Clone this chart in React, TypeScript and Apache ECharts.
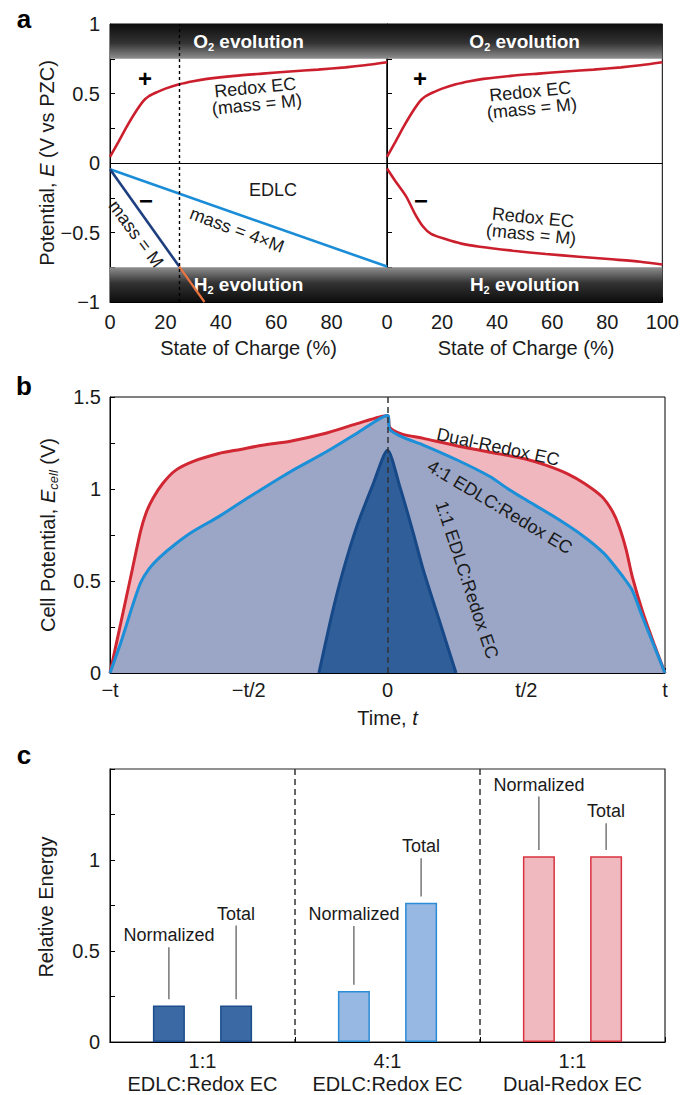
import React, { useEffect, useRef } from 'react';
import * as echarts from 'echarts';

const FONT = '"Liberation Sans", Arial, Helvetica, sans-serif';
const INK = '#1a1a1a';

// ---------- Panel a data (State of Charge %, Potential V vs PZC) ----------
const redoxPositive = [
  [0, 0.045], [3, 0.15], [6, 0.26], [9, 0.36], [12, 0.445], [14, 0.48], [17, 0.51],
  [20, 0.535], [25, 0.566], [30, 0.588], [35, 0.605], [45, 0.627], [55, 0.643],
  [65, 0.658], [75, 0.672], [85, 0.688], [92, 0.703], [100, 0.725],
];
const redoxNegative = [
  [0, -0.04], [3, -0.13], [7, -0.242], [10, -0.36], [13, -0.455], [16, -0.51],
  [21.5, -0.549], [27, -0.58], [33.7, -0.602], [45.7, -0.631], [57.7, -0.655],
  [69.7, -0.674], [81.7, -0.693], [92, -0.71], [100, -0.73],
];
const edlcHeavyMass = [[0, -0.045], [100, -0.745]];
const edlcEqualMass = [[0, -0.045], [25, -0.745]];
const edlcEqualMassBeyond = [[25, -0.745], [34.1, -1]];
const cutoffSoc = 25;
const o2Band = [0.75, 1];
const h2Band = [-1, -0.75];

// ---------- Panel b data (time in units of t, cell potential V) ----------
const dualRedox = [
  [-1, 0], [-0.96, 0.28], [-0.92, 0.56], [-0.89, 0.77], [-0.87, 0.87], [-0.845, 0.95],
  [-0.81, 1.03], [-0.765, 1.1], [-0.7, 1.15], [-0.608, 1.193], [-0.53, 1.215],
  [-0.451, 1.238], [-0.35, 1.26], [-0.23, 1.3], [-0.11, 1.355], [0, 1.4],
  [0.008, 1.335], [0.05, 1.3], [0.129, 1.275], [0.249, 1.235], [0.369, 1.2],
  [0.49, 1.166], [0.57, 1.13], [0.647, 1.084], [0.71, 1.03], [0.773, 0.958],
  [0.81, 0.88], [0.835, 0.795], [0.86, 0.67], [0.882, 0.524], [0.92, 0.33],
  [0.96, 0.16], [1, 0],
];
const edlc41 = [
  [-1, 0], [-0.96, 0.17], [-0.92, 0.36], [-0.89, 0.49], [-0.86, 0.565], [-0.82, 0.63],
  [-0.765, 0.7], [-0.7, 0.77], [-0.608, 0.85], [-0.5, 0.955], [-0.35, 1.094],
  [-0.23, 1.194], [-0.11, 1.303], [0, 1.4], [0.008, 1.325], [0.05, 1.285],
  [0.129, 1.239], [0.249, 1.159], [0.369, 1.068], [0.435, 1.0], [0.5, 0.94],
  [0.6, 0.85], [0.7, 0.75], [0.78, 0.65], [0.83, 0.56], [0.86, 0.5], [0.882, 0.45],
  [0.92, 0.3], [0.96, 0.15], [1, 0],
];
const edlc11 = [
  [-0.247, 0], [-0.2, 0.32], [-0.159, 0.56], [-0.111, 0.795], [-0.051, 1.03], [0, 1.21],
  [0.045, 1.01], [0.093, 0.76], [0.129, 0.56], [0.19, 0.27], [0.247, 0],
];
const timeTickLabels: Record<string, string> = { '-1': '−t', '-0.5': '−t/2', '0': '0', '0.5': 't/2', '1': 't' };

// ---------- Panel c data ----------
const groups = ['1:1\nEDLC:Redox EC', '4:1\nEDLC:Redox EC', '1:1\nDual-Redox EC'];
const normalizedEnergy = [0.2, 0.28, 1.02];
const totalEnergy = [0.2, 0.765, 1.02];
const normalizedLabelLevel = [0.586, 0.703, 1.414];
const totalLabelLevel = [0.705, 1.075, 1.267];

const barFill = ['#3a69a4', '#97b8e3', '#f0b9bf'];
const barEdge = ['#1d4d8c', '#2a8bd6', '#d8323f'];

const RED = '#cc1f2d';
const LIGHT_BLUE = '#1b8cd6';
const DARK_BLUE = '#1d3f80';
const ORANGE = '#ea7440';

function fmtPotential(v: number) {
  if (Math.abs(v * 2 - Math.round(v * 2)) > 1e-6) return '';
  const a = Math.abs(v);
  return (v < 0 ? '−' : '') + String(a);
}

function txt(text: string, x: number, y: number, o: any = {}) {
  return {
    type: 'text',
    x,
    y,
    rotation: o.rotation || 0,
    silent: true,
    z: 100,
    style: {
      text,
      fill: o.fill || INK,
      fontSize: o.size || 18,
      fontFamily: FONT,
      fontWeight: o.weight || 'normal',
      fontStyle: o.style || 'normal',
      align: 'center',
      verticalAlign: 'middle',
      lineHeight: o.lineHeight,
      rich: o.rich,
    },
  };
}

export default function App() {
  const ref = useRef<HTMLDivElement>(null);

  useEffect(() => {
    document.body.style.margin = '0';
    const chart = echarts.init(ref.current!, null, { renderer: 'svg' });

    const tick = { show: true, inside: true, length: 5, lineStyle: { color: '#000', width: 1 } };
    const axLine = { show: true, onZero: false, lineStyle: { color: '#000', width: 1 } };
    const lbl = { color: INK, fontSize: 20, fontFamily: FONT };

    const gradTop = new echarts.graphic.LinearGradient(0, 0, 0, 1, [
      { offset: 0, color: '#0d0d0d' },
      { offset: 0.55, color: '#333333' },
      { offset: 1, color: '#8f8f8f' },
    ]);
    const gradBot = new echarts.graphic.LinearGradient(0, 0, 0, 1, [
      { offset: 0, color: '#8f8f8f' },
      { offset: 0.45, color: '#333333' },
      { offset: 1, color: '#0d0d0d' },
    ]);
    const bandLabel = (f: string) => ({
      show: true,
      position: 'inside',
      formatter: f,
      color: '#fff',
      fontSize: 19,
      fontWeight: 'bold',
      fontFamily: FONT,
      lineHeight: 22,
      rich: {
        sub: { fontSize: 11, fontWeight: 'bold', color: '#fff', fontFamily: FONT, verticalAlign: 'bottom', lineHeight: 11 },
      },
    });
    const bands = () => ({
      silent: true,
      z: 1,
      data: [
        [
          { yAxis: o2Band[0], itemStyle: { color: gradTop }, label: bandLabel('O{sub|2} evolution') },
          { yAxis: o2Band[1] },
        ],
        [
          { yAxis: h2Band[0], itemStyle: { color: gradBot }, label: bandLabel('H{sub|2} evolution') },
          { yAxis: h2Band[1] },
        ],
      ],
    });

    const lineSeries = (data: number[][], color: string, xi: number, yi: number, extra: any = {}) => ({
      type: 'line',
      xAxisIndex: xi,
      yAxisIndex: yi,
      data,
      showSymbol: false,
      symbol: 'none',
      smooth: 0.25,
      lineStyle: { color, width: 2.6 },
      itemStyle: { color },
      z: 3,
      ...extra,
    });

    const zeroLine = {
      silent: true,
      symbol: ['none', 'none'],
      label: { show: false },
      z: 5,
      data: [{ yAxis: 0, lineStyle: { color: '#000', type: 'solid', width: 1.2 } }],
    };

    const option: any = {
      animation: false,
      textStyle: { fontFamily: FONT },
      grid: [
        { left: 110, top: 24, width: 277, height: 278, show: true, borderColor: '#000', borderWidth: 1, backgroundColor: 'transparent' },
        { left: 387, top: 24, width: 278, height: 278, show: true, borderColor: '#000', borderWidth: 1, backgroundColor: 'transparent' },
        { left: 110, top: 397, width: 555, height: 276, show: true, borderColor: '#000', borderWidth: 1, backgroundColor: 'transparent' },
        { left: 110, top: 769, width: 555, height: 275, show: true, borderColor: '#222', borderWidth: 1.2, backgroundColor: 'transparent' },
      ],
      xAxis: [
        {
          gridIndex: 0, type: 'value', min: 0, max: 100, interval: 10,
          axisLine: axLine, axisTick: tick, splitLine: { show: false },
          axisLabel: { ...lbl, margin: 10, formatter: (v: number) => (v % 20 === 0 && v < 100 ? String(v) : '') },
        },
        {
          gridIndex: 1, type: 'value', min: 0, max: 100, interval: 10,
          axisLine: axLine, axisTick: tick, splitLine: { show: false },
          axisLabel: { ...lbl, margin: 10, formatter: (v: number) => (v % 20 === 0 ? String(v) : '') },
        },
        {
          gridIndex: 2, type: 'value', min: -1, max: 1, interval: 0.25,
          axisLine: axLine, axisTick: tick, splitLine: { show: false },
          axisLabel: { ...lbl, margin: 7, formatter: (v: number) => timeTickLabels[String(Math.round(v * 100) / 100)] || '' },
        },
        {
          gridIndex: 3, type: 'category', data: groups, boundaryGap: true,
          axisLine: axLine, axisTick: { ...tick, interval: 0 },
          splitLine: { show: true, interval: 0, showMinLine: false, showMaxLine: false, lineStyle: { color: '#333', type: [6, 4], width: 1.5 } },
          axisLabel: { ...lbl, margin: 7, lineHeight: 23, interval: 0 },
        },
      ],
      yAxis: [
        {
          gridIndex: 0, type: 'value', min: -1, max: 1, interval: 0.25,
          axisLine: axLine, axisTick: tick, splitLine: { show: false },
          axisLabel: { ...lbl, margin: 10, formatter: fmtPotential },
        },
        {
          gridIndex: 1, type: 'value', min: -1, max: 1, interval: 0.25,
          axisLine: axLine, axisTick: tick, splitLine: { show: false },
          axisLabel: { show: false },
        },
        {
          gridIndex: 2, type: 'value', min: 0, max: 1.5, interval: 0.25,
          axisLine: axLine, axisTick: tick, splitLine: { show: false },
          axisLabel: { ...lbl, margin: 9, formatter: fmtPotential },
        },
        {
          gridIndex: 3, type: 'value', min: 0, max: 1.5, interval: 0.25,
          axisLine: axLine, axisTick: tick, splitLine: { show: false },
          axisLabel: { ...lbl, margin: 10, formatter: (v: number) => (v === 0 ? '0' : v === 0.5 ? '0.5' : v === 1 ? '1' : '') },
        },
      ],
      series: [
        // panel a bands
        { type: 'line', xAxisIndex: 0, yAxisIndex: 0, data: [[0, 0]], symbol: 'none', lineStyle: { opacity: 0 }, z: 1, markArea: bands() },
        { type: 'line', xAxisIndex: 1, yAxisIndex: 1, data: [[0, 0]], symbol: 'none', lineStyle: { opacity: 0 }, z: 1, markArea: bands() },
        // panel a left curves
        lineSeries(redoxPositive, RED, 0, 0),
        lineSeries(edlcHeavyMass, LIGHT_BLUE, 0, 0, {
          smooth: false,
          markLine: {
            ...zeroLine,
            data: [
              { yAxis: 0, lineStyle: { color: '#000', type: 'solid', width: 1.2 } },
              { xAxis: cutoffSoc, lineStyle: { color: '#000', type: [3, 3], width: 1.4 } },
            ],
          },
        }),
        lineSeries(edlcEqualMass, DARK_BLUE, 0, 0, { smooth: false }),
        lineSeries(edlcEqualMassBeyond, ORANGE, 0, 0, { smooth: false, lineStyle: { color: ORANGE, width: 2.2 } }),
        // panel a right curves
        lineSeries(redoxPositive, RED, 1, 1),
        lineSeries(redoxNegative, RED, 1, 1, { markLine: zeroLine }),
        // panel b
        lineSeries(dualRedox, '#d02733', 2, 2, { lineStyle: { color: '#d02733', width: 3 }, areaStyle: { color: '#f0b8be', opacity: 1 } }),
        lineSeries(edlc41, '#1b8fd8', 2, 2, { lineStyle: { color: '#1b8fd8', width: 3 }, areaStyle: { color: '#9ba6c6', opacity: 1 } }),
        lineSeries(edlc11, '#174887', 2, 2, {
          lineStyle: { color: '#174887', width: 3 },
          areaStyle: { color: '#2f5e98', opacity: 1 },
          markLine: {
            silent: true,
            symbol: ['none', 'none'],
            label: { show: false },
            z: 5,
            data: [{ xAxis: 0, lineStyle: { color: '#333', type: [6, 4], width: 1.5 } }],
          },
        }),
        // panel c
        {
          type: 'bar', name: 'Normalized', xAxisIndex: 3, yAxisIndex: 3, barWidth: 32, barGap: '110%', z: 3,
          data: normalizedEnergy.map((v, i) => ({ value: v, itemStyle: { color: barFill[i], borderColor: barEdge[i], borderWidth: 1.5 } })),
        },
        {
          type: 'bar', name: 'Total', xAxisIndex: 3, yAxisIndex: 3, barWidth: 32, barGap: '110%', z: 3,
          data: totalEnergy.map((v, i) => ({ value: v, itemStyle: { color: barFill[i], borderColor: barEdge[i], borderWidth: 1.5 } })),
        },
        {
          type: 'custom', xAxisIndex: 3, yAxisIndex: 3, clip: false, z: 4, silent: true,
          encode: { x: 0, y: 1 },
          data: [
            ...normalizedEnergy.map((v, i) => [i, v, normalizedLabelLevel[i], -1]),
            ...totalEnergy.map((v, i) => [i, v, totalLabelLevel[i], 1]),
          ],
          renderItem: (params: any, api: any) => {
            const cat = api.value(0);
            const bar = api.value(1);
            const lev = api.value(2);
            const side = api.value(3);
            const base = api.coord([cat, bar]);
            const x = base[0] + side * 33.6;
            const y1 = api.coord([cat, bar + 0.035])[1];
            const y2 = api.coord([cat, lev - 0.065])[1];
            const yt = api.coord([cat, lev])[1];
            return {
              type: 'group',
              children: [
                { type: 'line', shape: { x1: x, y1, x2: x, y2 }, style: { stroke: '#555', lineWidth: 1.2 } },
                {
                  type: 'text', x, y: yt,
                  style: { text: side < 0 ? 'Normalized' : 'Total', fill: INK, fontSize: 18, fontFamily: FONT, align: 'center', verticalAlign: 'middle' },
                },
              ],
            };
          },
        },
      ],
      graphic: [
        // panel letters
        txt('a', 24, 19, { size: 26, weight: 'bold', fill: '#000' }),
        txt('b', 24, 386, { size: 26, weight: 'bold', fill: '#000' }),
        txt('c', 24, 755, { size: 26, weight: 'bold', fill: '#000' }),
        // panel a titles
        txt('Potential, {i|E} (V vs PZC)', 47, 163, {
          size: 20, rotation: Math.PI / 2,
          rich: { i: { fontStyle: 'italic', fontSize: 20, fontFamily: FONT, fill: INK } },
        }),
        txt('State of Charge (%)', 248.5, 348, { size: 20 }),
        txt('State of Charge (%)', 526, 348, { size: 20 }),
        // panel a annotations
        txt('+', 145, 78, { size: 24, weight: 'bold', fill: '#000' }),
        txt('+', 420, 78, { size: 24, weight: 'bold', fill: '#000' }),
        txt('−', 146, 200, { size: 24, weight: 'bold', fill: '#000' }),
        txt('−', 421, 200, { size: 24, weight: 'bold', fill: '#000' }),
        txt('Redox EC\n(mass = M)', 256, 96, { size: 18, lineHeight: 17, rotation: 0.1 }),
        txt('Redox EC\n(mass = M)', 531, 100, { size: 18, lineHeight: 17, rotation: 0.1 }),
        txt('Redox EC\n(mass = M)', 532, 226, { size: 18, lineHeight: 17, rotation: -0.1 }),
        txt('EDLC', 273, 190, { size: 18 }),
        txt('mass = M', 136, 234, { size: 18, rotation: -0.93 }),
        txt('mass = 4×M', 237, 230, { size: 18, rotation: -0.36 }),
        // panel b titles
        txt('Cell Potential, {i|E}{sub|cell} (V)', 48, 535, {
          size: 20, rotation: Math.PI / 2, lineHeight: 24,
          rich: {
            i: { fontStyle: 'italic', fontSize: 20, fontFamily: FONT, fill: INK, lineHeight: 24 },
            sub: { fontStyle: 'italic', fontSize: 13, fontFamily: FONT, fill: INK, verticalAlign: 'bottom', lineHeight: 13 },
          },
        }),
        txt('Time, {i|t}', 387.5, 718, {
          size: 20, rich: { i: { fontStyle: 'italic', fontSize: 20, fontFamily: FONT, fill: INK } },
        }),
        // panel b annotations
        txt('Dual-Redox EC', 498, 447, { size: 18, rotation: -0.21 }),
        txt('4:1 EDLC:Redox EC', 500, 507, { size: 18, rotation: -0.54 }),
        txt('1:1 EDLC:Redox EC', 467, 580, { size: 18, rotation: -1.25 }),
        // panel c title
        txt('Relative Energy', 46, 907, { size: 20, rotation: Math.PI / 2 }),
      ],
    };

    chart.setOption(option);
    return () => chart.dispose();
  }, []);

  return <div ref={ref} style={{ position: 'absolute', left: 0, top: 0, width: 682, height: 1095 }} />;
}
